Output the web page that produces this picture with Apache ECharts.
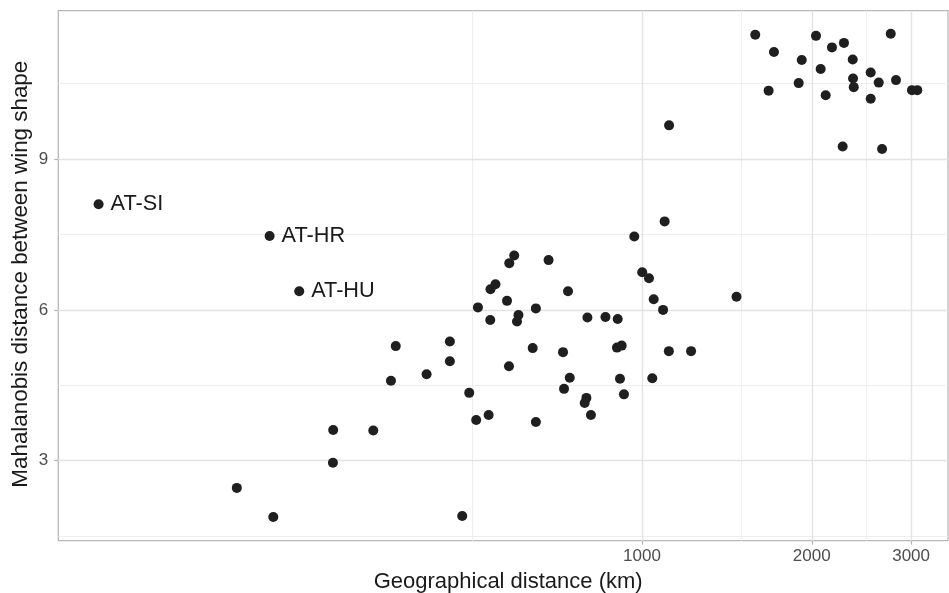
<!DOCTYPE html>
<html><head><meta charset="utf-8">
<script src="https://cdn.jsdelivr.net/npm/echarts@6/dist/echarts.min.js"></script>
<style>html,body{margin:0;padding:0;background:#fff}#c{width:949px;height:593px}</style>
</head><body><div id="c"></div>
<script>
// Geographical distance (km) between population pairs
const geoDistanceKm = [
  108.8, 218.7, 246.8, 191.3, 222.0, 283.2, 283.5, 333.9, 358.9, 366.0,
  415.1, 456.5, 456.5, 480.1, 494.0, 508.3, 511.9, 534.8, 538.8, 538.3,
  549.9, 576.4, 581.8, 581.1, 593.6, 604.0, 600.4, 640.1, 648.5, 648.5,
  683.0, 724.5, 727.5, 739.4, 744.7, 800.3, 797.0, 791.5, 812.0, 861.5,
  905.6, 903.0, 920.5, 914.1, 929.2, 969.1, 1001, 1029, 1043, 1049,
  1090, 1097, 1117, 1116, 1222, 1471,
  1588, 1714, 1677, 1920, 1896, 2035, 2074, 2117, 2172, 2281,
  2364, 2367, 2374, 2269, 2544, 2629, 2544, 2761, 2821, 2665,
  3011, 3077
];
// Mahalanobis distance between wing shape
const mahalanobis = [
  8.10, 7.47, 6.37, 2.46, 1.88, 2.96, 3.61, 3.60, 4.59, 5.28,
  4.72, 5.37, 4.98, 1.90, 4.35, 3.81, 6.05, 3.91, 6.41, 5.80,
  6.51, 6.18, 6.93, 4.88, 7.08, 5.90, 5.77, 5.24, 6.03, 3.77,
  6.99, 5.16, 4.43, 6.37, 4.65, 5.85, 4.25, 4.15, 3.91, 5.86,
  5.82, 5.25, 5.29, 4.63, 4.32, 7.46, 6.75, 6.63, 4.64, 6.21,
  6.00, 7.76, 9.67, 5.18, 5.18, 6.26,
  11.47, 11.13, 10.36, 10.97, 10.51, 11.45, 10.79, 10.27, 11.22, 11.31,
  10.98, 10.60, 10.43, 9.25, 10.72, 10.52, 10.20, 11.49, 10.57, 9.20,
  10.37, 10.37
];
const pairLabels = ["AT-SI", "AT-HR", "AT-HU"]; // first three points
const xTickLabels = [1000, 2000, 3000];
const xMinorGrid = [500, 1500, 2500];
const yTickLabels = [3, 6, 9];
const yMinorGrid = [1.5, 4.5, 7.5, 10.5];

const FONT = "'Liberation Sans', Arial, Helvetica, sans-serif";
const chart = echarts.init(document.getElementById('c'), null, {renderer: 'canvas'});

const points = geoDistanceKm.map((x, i) => {
  const item = {value: [x, mahalanobis[i]]};
  if (i < pairLabels.length) {
    item.label = {show: true, formatter: pairLabels[i]};
  }
  return item;
});

const majorStyle = {color: '#E3E3E3', width: 1.4, type: 'solid'};
const minorStyle = {color: '#EEEEEE', width: 1, type: 'solid'};
const gridLines = []
  .concat(xMinorGrid.map(v => ({xAxis: v, lineStyle: minorStyle})))
  .concat(yMinorGrid.map(v => ({yAxis: v, lineStyle: minorStyle})))
  .concat(xTickLabels.map(v => ({xAxis: v, lineStyle: majorStyle})))
  .concat(yTickLabels.map(v => ({yAxis: v, lineStyle: majorStyle})));

chart.setOption({
  animation: false,
  backgroundColor: '#fff',
  textStyle: {fontFamily: FONT},
  grid: {left: 58.3, right: 1, top: 10.7, bottom: 52.3, show: true,
         containLabel: false, outerBoundsMode: 'none',
         borderColor: '#B8B8B8', borderWidth: 1.3, backgroundColor: 'transparent'},
  xAxis: {
    type: 'log', logBase: 10, min: 92.3, max: 3488,
    name: 'Geographical distance (km)', nameLocation: 'middle', nameGap: 30, nameMoveOverlap: false,
    nameTextStyle: {fontSize: 22, color: '#1a1a1a', fontFamily: FONT, padding: [0, 0, 0, 10]},
    axisLine: {show: false},
    splitLine: {show: false},
    axisTick: {show: true, length: 4, customValues: xTickLabels, lineStyle: {color: '#B3B3B3', width: 1.2}},
    axisLabel: {customValues: xTickLabels, formatter: v => String(Math.round(v)),
                fontSize: 17, color: '#4D4D4D', margin: 7, fontFamily: FONT}
  },
  yAxis: {
    type: 'value', min: 1.41, max: 11.95,
    name: 'Mahalanobis distance between wing shape', nameLocation: 'middle', nameGap: 26, nameMoveOverlap: false,
    nameTextStyle: {fontSize: 22.4, color: '#1a1a1a', fontFamily: FONT, padding: [0, 0, 0, 3]},
    axisLine: {show: false},
    splitLine: {show: false},
    axisTick: {show: true, length: 4, customValues: yTickLabels, lineStyle: {color: '#B3B3B3', width: 1.2}},
    axisLabel: {customValues: yTickLabels, fontSize: 17, color: '#4D4D4D', margin: 10, fontFamily: FONT}
  },
  series: [
    {
      type: 'scatter', data: [], silent: true, z: 1,
      markLine: {silent: true, symbol: 'none', label: {show: false}, animation: false, data: gridLines}
    },
    {
      type: 'scatter', z: 5, symbol: 'circle', symbolSize: 10,
      itemStyle: {color: '#1f1f1f', opacity: 1},
      label: {show: false, position: 'right', distance: 7, fontSize: 21.7, color: '#1a1a1a', fontFamily: FONT},
      data: points
    }
  ]
});
</script></body></html>
